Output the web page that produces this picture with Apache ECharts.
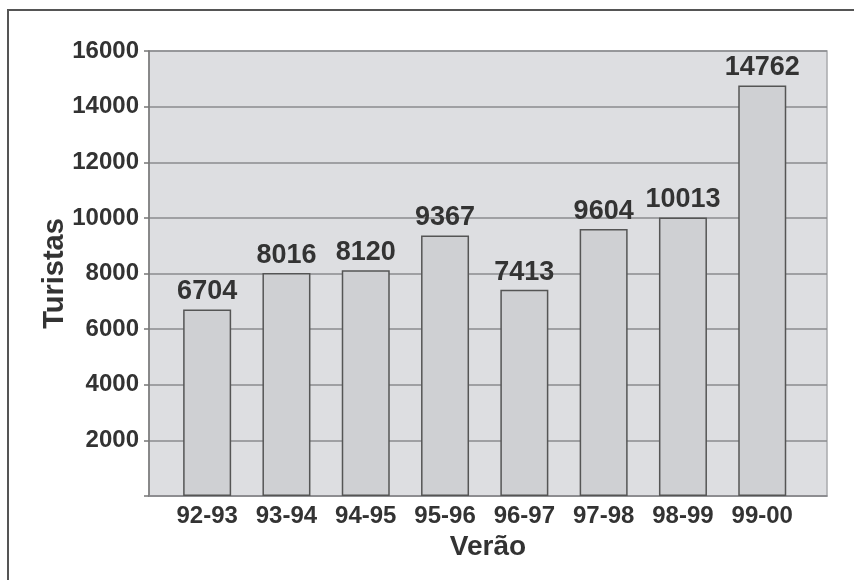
<!DOCTYPE html>
<html>
<head>
<meta charset="utf-8">
<script src="https://cdn.jsdelivr.net/npm/echarts@6/dist/echarts.min.js"></script>
<style>
html,body{margin:0;padding:0;background:#fff;}
#main{width:854px;height:580px;}
</style>
</head>
<body>
<div id="main"></div>
<script>
const categories = ['92-93','93-94','94-95','95-96','96-97','97-98','98-99','99-00'];
const turistas = [6704, 8016, 8120, 9367, 7413, 9604, 10013, 14762];
const yMin = 0, yMax = 16000, yStep = 2000;

const chart = echarts.init(document.getElementById('main'));
const font = '"Liberation Sans", Arial, sans-serif';
chart.setOption({
  backgroundColor: '#ffffff',
  animation: false,
  graphic: [{
    type: 'polyline',
    shape: { points: [[8, 580], [8, 10], [854, 10]] },
    style: { stroke: '#555', lineWidth: 2, fill: null }
  }],
  grid: [
    { left: 149, top: 51, width: 678, height: 445, show: true, backgroundColor: '#dddee1', borderColor: '#a9aaad', borderWidth: 1.5 },
    { left: 167.5, top: 51, width: 634.4, height: 445 }
  ],
  xAxis: [
    { gridIndex: 0, type: 'value', min: 0, max: 1, show: true,
      axisLabel: { show: false }, axisTick: { show: false }, splitLine: { show: false },
      axisLine: { show: true, lineStyle: { color: '#8a8b8e', width: 1.5 } },
      name: 'Verão', nameLocation: 'middle', nameGap: 37, nameMoveOverlap: false,
      nameTextStyle: { fontFamily: font, fontWeight: 'bold', fontSize: 28, color: '#333' } },
    { gridIndex: 1, type: 'category', data: categories,
      axisLine: { show: false }, axisTick: { show: false },
      axisLabel: { interval: 0, hideOverlap: false, fontFamily: font, fontWeight: 'bold', fontSize: 24, color: '#333', margin: 8 } }
  ],
  yAxis: [
    { gridIndex: 0, type: 'value', min: yMin, max: yMax, interval: yStep,
      axisLine: { show: true, lineStyle: { color: '#777', width: 1.5 } },
      axisTick: { show: true, length: 5, lineStyle: { color: '#777', width: 1.5 } },
      splitLine: { show: true, lineStyle: { color: '#8a8b8e', width: 1.5 } },
      axisLabel: { fontFamily: font, fontWeight: 'bold', fontSize: 24, color: '#333', margin: 10,
        formatter: function (v) { return v === 0 ? '' : String(v); } },
      name: 'Turistas', nameLocation: 'middle', nameGap: 80, nameRotate: 90, nameMoveOverlap: false,
      nameTextStyle: { fontFamily: font, fontWeight: 'bold', fontSize: 29, color: '#333' } },
    { gridIndex: 1, type: 'value', min: yMin, max: yMax, show: false, splitLine: { show: false } }
  ],
  series: [{
    type: 'bar',
    xAxisIndex: 1, yAxisIndex: 1,
    data: turistas,
    barWidth: 48,
    itemStyle: { color: '#cfd0d3', borderColor: '#555', borderWidth: 1.5 },
    label: { show: true, position: 'top', distance: 4, fontFamily: font, fontWeight: 'bold', fontSize: 27, color: '#333' }
  }]
});
</script>
</body>
</html>
